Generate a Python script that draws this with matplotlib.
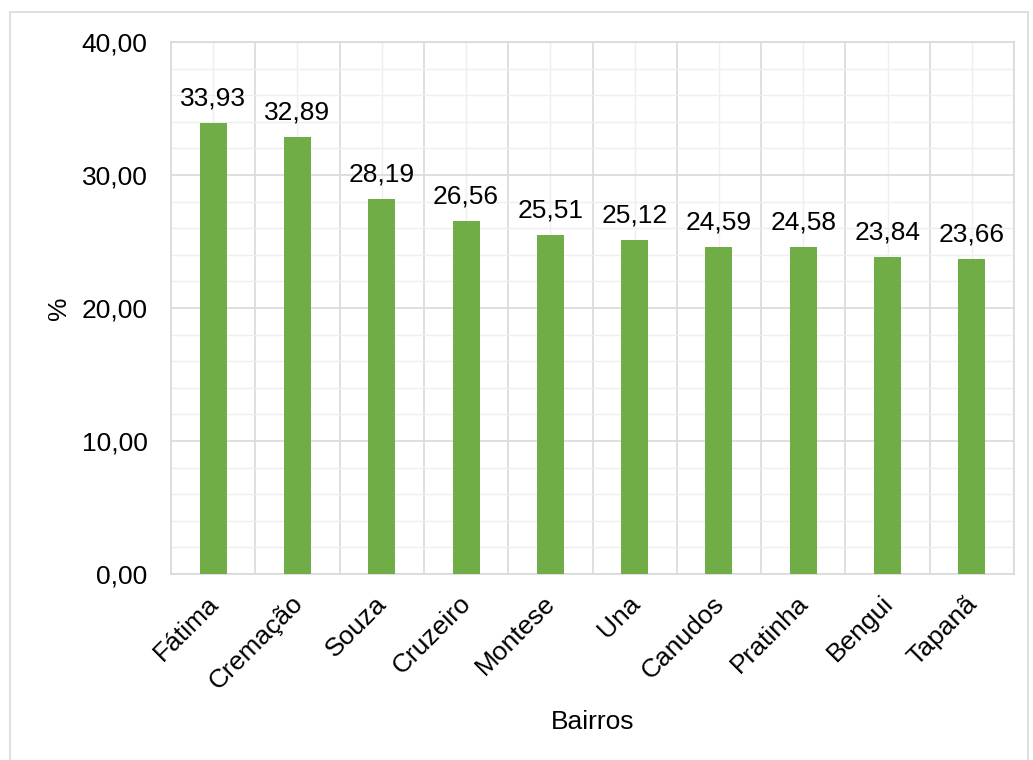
import matplotlib
matplotlib.use("Agg")
import matplotlib.pyplot as plt
from matplotlib.patches import Rectangle
from matplotlib.ticker import MultipleLocator, FixedLocator, FuncFormatter
from matplotlib.transforms import ScaledTranslation
import numpy as np

bairros = ["Fátima", "Cremação", "Souza", "Cruzeiro", "Montese", "Una",
           "Canudos", "Pratinha", "Bengui", "Tapanã"]
valores = [33.93, 32.89, 28.19, 26.56, 25.51, 25.12, 24.59, 24.58, 23.84, 23.66]

plt.rcParams['font.family'] = ['Liberation Sans', 'DejaVu Sans']
FS = 19

fig = plt.figure(figsize=(10.33, 7.6), dpi=100)
fig.patches.append(Rectangle((10/1033, -0.05), 1018/1033, 1.05 - 12/760,
                             transform=fig.transFigure, fill=False,
                             edgecolor="#d9d9d9", linewidth=1.2))
ax = fig.add_axes([171/1033, 1 - 574/760, (1014 - 171)/1033, (574 - 42)/760])

x = np.arange(len(bairros))
bars = ax.bar(x, valores, width=0.32, color="#70AD47", zorder=3)

ax.set_xlim(-0.5, len(bairros) - 0.5)
ax.set_ylim(0, 40)
ax.yaxis.set_major_locator(MultipleLocator(10))
ax.yaxis.set_minor_locator(MultipleLocator(2))
ax.xaxis.set_major_locator(FixedLocator(x))
ax.xaxis.set_minor_locator(FixedLocator(np.arange(len(bairros) + 1) - 0.5))
ax.yaxis.set_major_formatter(FuncFormatter(lambda v, p: f"{v:.2f}".replace(".", ",")))

ax.grid(which="major", axis="y", color="#d9d9d9", linewidth=1.2, zorder=0)
ax.grid(which="minor", axis="y", color="#efefef", linewidth=1.0, zorder=0)
ax.grid(which="minor", axis="x", color="#d9d9d9", linewidth=1.2, zorder=0)
ax.grid(which="major", axis="x", color="#efefef", linewidth=1.0, zorder=0)
ax.set_axisbelow(True)

for s in ax.spines.values():
    s.set_color("#d9d9d9")
    s.set_linewidth(1.2)

ax.tick_params(which="both", length=0)
ax.tick_params(axis="y", labelsize=FS, pad=17)
ax.tick_params(axis="x", labelsize=FS, pad=6)
ax.set_xticklabels(bairros, rotation=45, ha="right", rotation_mode="anchor")
shift = ScaledTranslation(-7/100, -9/100, fig.dpi_scale_trans)
for lbl in ax.get_xticklabels():
    lbl.set_transform(lbl.get_transform() + shift)

for xi, v in zip(x, valores):
    ax.annotate(f"{v:.2f}".replace(".", ","), (xi, v), xytext=(0, 9),
                textcoords="offset points", ha="center", va="bottom", fontsize=FS)

ax.set_ylabel("%", fontsize=FS)
ax.yaxis.set_label_coords(-(171 - 59) / (1014 - 171), 0.5)
ax.yaxis.label.set_va("center")
ax.set_xlabel("Bairros", fontsize=FS)
ax.xaxis.set_label_coords(0.5, -(722 - 574) / (574 - 42))
ax.xaxis.label.set_va("center")

fig.savefig("out.png", dpi=100)
